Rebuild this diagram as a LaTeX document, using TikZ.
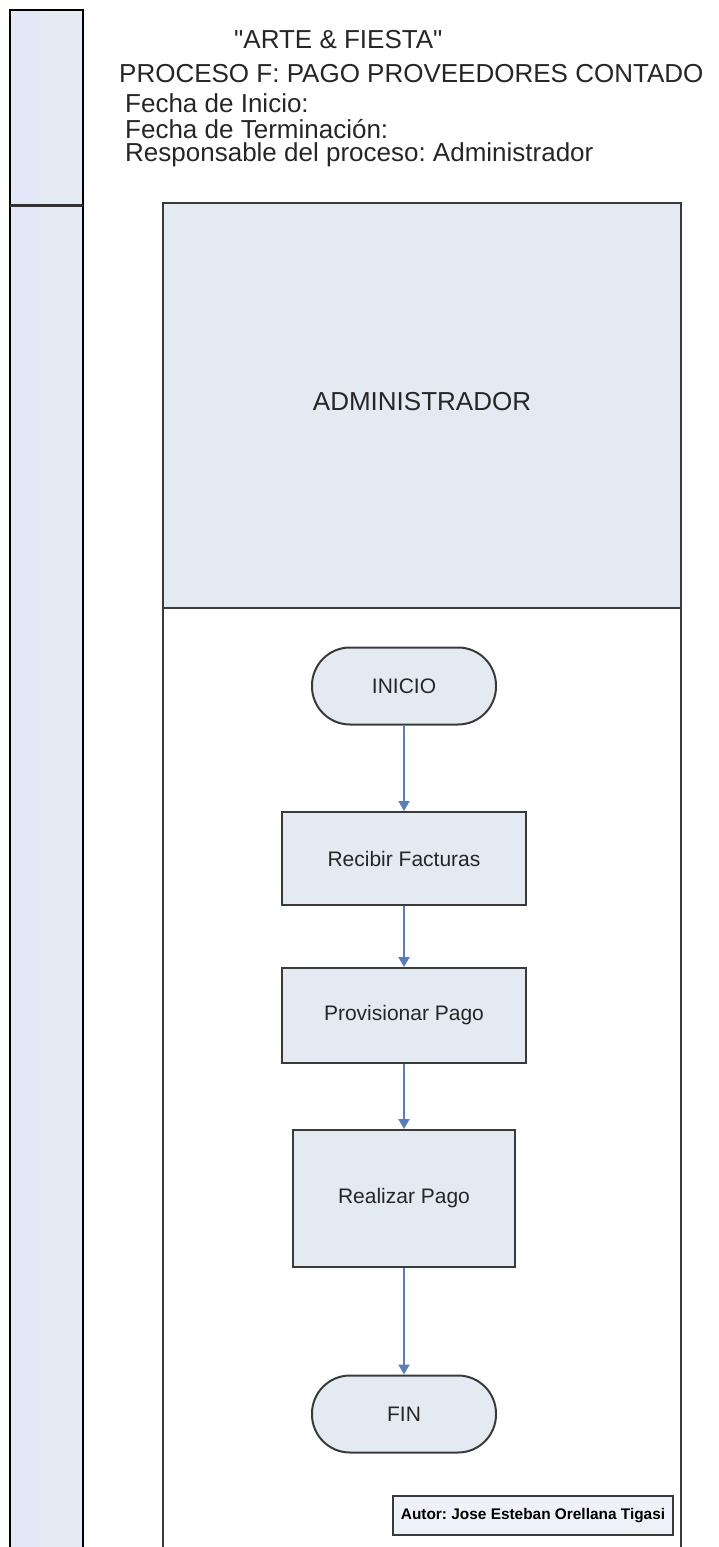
\documentclass[tikz,border=0pt]{standalone}
\usepackage{fontspec}
\setmainfont{Liberation Sans}
\newfontfamily\titlefont{Liberation Sans}
\usepackage{xcolor}
\usetikzlibrary{arrows.meta,positioning}
\frenchspacing

\definecolor{lanefill}{HTML}{E4EAF2}
\definecolor{stripband}{HTML}{E3E8F8}
\definecolor{edgegray}{HTML}{3A3A3A}
\definecolor{flowblue}{HTML}{5B7DB9}
\definecolor{autorfill}{HTML}{EEF1F7}

\tikzset{
  proc/.style={draw=edgegray,line width=2pt,fill=lanefill,text=black!85,
    minimum width=244pt,minimum height=93pt,inner sep=0pt,
    font=\fontsize{21}{25}\selectfont},
  term/.style={proc,rounded corners=38pt,minimum width=184pt,minimum height=77pt},
  flow/.style={draw=flowblue,line width=2pt,-{Triangle[width=11pt,length=10pt]}},
  head/.style={inner sep=0pt,anchor=west,text=black!85,font=\titlefont\fontsize{26}{30}\selectfont}
}

\begin{document}
\begin{tikzpicture}[x=1pt,y=-1pt]

\useasboundingbox (0,0) rectangle (719,1547);

% left strip
\fill[lanefill] (10,10) rectangle (83,1547);
\fill[stripband] (14,10) rectangle (40,1547);
\draw[black,line width=2.5pt] (10,1547) -- (10,10) -- (83,10) -- (83,1547);
\draw[black!80,line width=3pt] (10,205) -- (83,205);

% titles
\node[head] (empresa) at (234,40) {"ARTE \& FIESTA"};
\node[head] (proceso) at (119,74) {PROCESO F: PAGO PROVEEDORES CONTADO};
\node[head] (inicio fecha) at (125,103) {Fecha de Inicio:};
\node[head] (fin fecha) at (125,129) {Fecha de Terminación:};
\node[head] (responsable) at (125,155) {Responsable del proceso: Administrador};

% lane
\fill[lanefill] (163,203) rectangle (681,608);
\draw[edgegray,line width=2pt] (163,1547) -- (163,203) -- (681,203) -- (681,1547);
\draw[edgegray,line width=2pt] (163,608) -- (681,608);
\node[text=black!85,font=\fontsize{26}{30}\selectfont] (admin) at (422,402) {ADMINISTRADOR};

% flow
\node[term] (inicio) at (404,686) {INICIO};
\node[proc] (recibir) at (404,858.5) {Recibir Facturas};
\node[proc,minimum height=95pt] (provisionar) at (404,1015.5) {Provisionar Pago};
\node[proc,minimum width=222pt,minimum height=137pt] (realizar) at (404,1198.5) {Realizar Pago};
\node[term] (fin) at (404,1414) {FIN};

\draw[flow] (inicio.south) -- (recibir.north);
\draw[flow] (recibir.south) -- (provisionar.north);
\draw[flow] (provisionar.south) -- (realizar.north);
\draw[flow] (realizar.south) -- (fin.north);

\node[draw=edgegray,line width=2pt,fill=autorfill,minimum width=280pt,minimum height=39pt,
  inner sep=0pt,font=\fontsize{15.4}{18}\selectfont\bfseries] (autor) at (533,1515.5)
  {Autor: Jose Esteban Orellana Tigasi};

\end{tikzpicture}
\end{document}
